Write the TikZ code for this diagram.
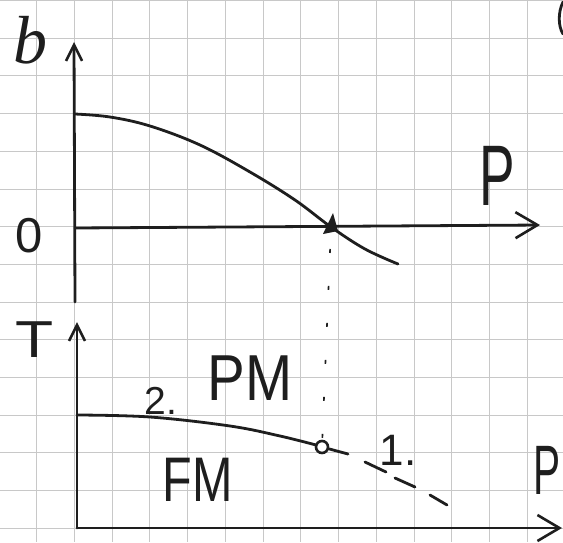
\documentclass[tikz,border=0pt]{standalone}
\usepackage{fontspec}
\setmainfont{Liberation Sans}
\newfontfamily\serifit{Liberation Serif}
\usetikzlibrary{arrows.meta}
\definecolor{pen}{RGB}{30,30,30}
\definecolor{gridc}{RGB}{200,200,200}
\tikzset{
  gridline/.style={draw=gridc, line width=1pt},
  penline/.style={draw=pen, line width=2.8pt, line cap=round, line join=round},
  lbl/.style={inner sep=0pt, outer sep=0pt, text=pen},
  smallbarb/.style={-{Straight Barb[length=16pt,width=16pt,line width=2.6pt]}},
  bigbarb/.style={-{Straight Barb[length=22pt,width=26pt,line width=2.6pt]}},
}
\newcommand{\fs}[1]{\fontsize{#1}{#1}\selectfont}
\begin{document}
\begin{tikzpicture}[x=1pt,y=-1pt]
\useasboundingbox (0,0) rectangle (563,542);
% graph paper
\foreach \k in {0,...,13} \draw[gridline] ({36.7+37.73*\k},0) -- ({36.7+37.73*\k},542);
\foreach \k in {0,...,14} \draw[gridline] (0,{0.6+37.69*\k}) -- (563,{0.6+37.69*\k});
% edge fragment
\draw[penline] (563,2) .. controls (558,12) and (558,26) .. (563,34);

% ---- top plot ----
\coordinate (o1) at (75,228);
\coordinate (ybot) at (75,302);
\coordinate (ytop) at (74,42);
\coordinate (xend) at (540,225);
\draw[penline, smallbarb] (ybot) -- (ytop);
\draw[penline, bigbarb] (75,228) -- (xend);
\coordinate (tc) at (331,227);
\draw[penline] plot[smooth, tension=0.6] coordinates
  {(75,114) (110,117) (150,126) (200,145) (250,172) (295,200) (331,227) (365,249) (398,264)};
\fill[pen] (323,234) -- (338,231) -- (333,213) -- cycle;

\node[lbl] (ylab) at (30,40) {\serifit\itshape\fs{68}b};
\node[lbl] (zero) at (29,236) {\fs{49}0};
\node[lbl] (ptop) at (497,176) {\scalebox{0.62}[1]{\fs{86}P}};

% ---- bottom plot ----
\coordinate (o2) at (77,528);
\coordinate (ttop) at (77,322);
\coordinate (pend) at (562,528);
\draw[penline, smallbarb] (o2) -- (ttop);
\draw[penline, bigbarb] (o2) -- (pend);

\node[draw=pen, line width=2.6pt, circle, minimum size=12pt, inner sep=0pt] (cp) at (322,447) {};
\draw[penline] plot[smooth, tension=0.6] coordinates
  {(77,415) (150,417) (230,426) (280,436) (316,445)};
\coordinate (s1) at (348,454);
\draw[penline] (cp) -- (s1);
\draw[penline] (365,462) -- (386,472);
\draw[penline] (395,478) -- (415,487);
\draw[penline] (430,495) -- (447,505);

% dotted link
\draw[pen, line width=1.6pt, dash pattern=on 4pt off 33pt, dash phase=-22pt] (tc) -- (cp);

\node[lbl] (tlab) at (35,340) {\scalebox{1.2}[1]{\fs{52}T}};
\node[lbl] (pbot) at (547,470) {\scalebox{0.58}[1]{\fs{70}P}};
\node[lbl] (pm) at (250,378) {\scalebox{0.87}[1]{\fs{65}PM}};
\node[lbl] (fm) at (198,480) {\scalebox{0.77}[1]{\fs{63}FM}};
\node[lbl] (two) at (161,401) {\fs{39}2.};
\node[lbl] (one) at (398,450) {\fs{44}1.};
\end{tikzpicture}
\end{document}
